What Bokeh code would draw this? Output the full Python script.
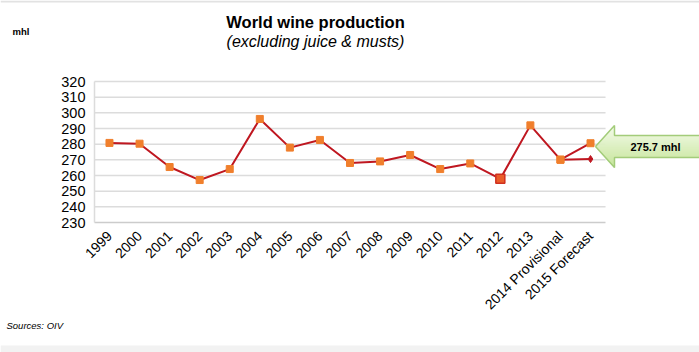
from bokeh.plotting import figure
from bokeh.models import Range1d, FactorRange, FixedTicker, Label, BoxAnnotation
from bokeh.embed import file_html
from bokeh.resources import INLINE
import math

years = ["1999", "2000", "2001", "2002", "2003", "2004", "2005", "2006", "2007",
         "2008", "2009", "2010", "2011", "2012", "2013", "2014 Provisional", "2015 Forecast"]
production = [280.8, 280.3, 265.4, 257.1, 264.1, 296.1, 277.8, 282.7, 268.0,
              269.0, 273.1, 264.1, 267.7, 257.9, 292.0, 270.1, 280.6]
low_years = ["2014 Provisional", "2015 Forecast"]
low_values = [270.1, 270.5]
highlight_year = ["2012"]
highlight_value = [257.9]
y_ticks = [230, 240, 250, 260, 270, 280, 290, 300, 310, 320]
forecast_label = "275.7 mhl"

W, H = 699, 352
T_PX, B_PX = 81, 222          # pixel rows of 320 and 230
Y0, Y1 = 230, 320
K = (Y1 - Y0) / (B_PX - T_PX)
YR0 = Y0 - (H - B_PX) * K
YR1 = Y1 + T_PX * K
PAD = 3.125                   # factor units of empty space on each side of the categories
N = len(years)
XR0, XR1 = -PAD, N + PAD

def dx(px):
    return XR0 + px / W * (XR1 - XR0)

def dy(py):
    return YR1 - py * K

p = figure(width=W, height=H,
           x_range=FactorRange(*years, range_padding=PAD, range_padding_units="absolute"),
           y_range=Range1d(YR0, YR1), output_backend="svg", toolbar_location=None,
           min_border=0)
p.outline_line_color = None
p.background_fill_color = "white"
p.border_fill_color = "white"
p.xgrid.grid_line_color = None
p.ygrid.grid_line_color = None

FONT = "Liberation Sans"

# page edges
p.add_layout(BoxAnnotation(top=dy(0), bottom=dy(2), fill_color="#e2e2e2",
                           fill_alpha=1, line_color=None, level="underlay"))
p.add_layout(BoxAnnotation(top=dy(345), bottom=dy(H + 2), fill_color="#f2f2f2",
                           fill_alpha=1, line_color=None, level="underlay"))

# horizontal grid lines across the category span only
grid_vals = y_ticks[1:]
p.segment(x0=[0] * len(grid_vals), x1=[N] * len(grid_vals), y0=grid_vals, y1=grid_vals,
          line_color="#dcdcdc", line_width=1.5)

p.yaxis.fixed_location = 0
p.yaxis.bounds = (Y0, Y1)
p.yaxis.ticker = FixedTicker(ticks=y_ticks)
p.yaxis.major_label_text_font = FONT
p.yaxis.major_label_text_font_size = "14.5px"
p.yaxis.major_label_text_color = "black"
p.yaxis.major_tick_line_color = None
p.yaxis.minor_tick_line_color = None
p.yaxis.axis_line_color = "#dcdcdc"
p.yaxis.axis_line_width = 1.5
p.yaxis.major_label_standoff = 3

p.xaxis.fixed_location = Y0
p.xaxis.bounds = (0, N)
p.xaxis.major_label_orientation = math.pi / 4
p.xaxis.major_label_text_font = FONT
p.xaxis.major_label_text_font_size = "14px"
p.xaxis.major_label_text_color = "black"
p.xaxis.major_tick_line_color = None
p.xaxis.axis_line_color = "#cccccc"
p.xaxis.axis_line_width = 1.5
p.xaxis.major_label_standoff = 5

RED = "#bf1720"
ORANGE = "#f07f2c"

p.line(years, production, line_color=RED, line_width=2)
p.line(low_years, low_values, line_color=RED, line_width=2)
p.scatter(years, production, marker="square", size=7, fill_color=ORANGE,
          line_color=ORANGE)
p.scatter(highlight_year, highlight_value, marker="square", size=9,
          fill_color="#ea5d2a", line_color="#d0301f", line_width=1.5)
p.scatter(low_years[1:], low_values[1:], marker="diamond", size=7,
          fill_color=RED, line_color=RED)
p.scatter(low_years[:1], low_values[:1], marker="square", size=7,
          fill_color=ORANGE, line_color=ORANGE)

# arrow callout (decoration), drawn as thin horizontal strips for a gradient
TIP_X, TIP_Y = 595, 146
HEAD_X, HEAD_T, HEAD_B = 614, 125, 167
BODY_T, BODY_B, END_X = 135, 157, 710

def left_x(py):
    return TIP_X + (HEAD_X - TIP_X) * abs(py - TIP_Y) / (TIP_Y - HEAD_T)

def right_x(py):
    return END_X if BODY_T <= py <= BODY_B else HEAD_X

def mix(c1, c2, t):
    a = [int(c1[i:i + 2], 16) for i in (1, 3, 5)]
    b = [int(c2[i:i + 2], 16) for i in (1, 3, 5)]
    return "#%02x%02x%02x" % tuple(round(a[i] + (b[i] - a[i]) * t) for i in range(3))

breaks = sorted(set([HEAD_T, BODY_T, TIP_Y, BODY_B, HEAD_B] +
                    [v for v in range(HEAD_T, HEAD_B + 1)]))
sx, sy, sc = [], [], []
for ya, yb in zip(breaks[:-1], breaks[1:]):
    ym = (ya + yb) / 2
    rx = right_x(ym)
    xs = [left_x(ya), rx, rx, left_x(yb)]
    ys = [ya, ya, yb, yb]
    sx.append([dx(v) for v in xs])
    sy.append([dy(v) for v in ys])
    sc.append(mix("#f4fbe9", "#c2e394", (ym - HEAD_T) / (HEAD_B - HEAD_T)))
p.patches(sx, sy, fill_color=sc, line_color=sc, line_width=0.5)
outline_px = [(TIP_X, TIP_Y), (HEAD_X, HEAD_T), (HEAD_X, BODY_T), (END_X, BODY_T),
              (END_X, BODY_B), (HEAD_X, BODY_B), (HEAD_X, HEAD_B), (TIP_X, TIP_Y)]
p.line([dx(a) for a, b in outline_px], [dy(b) for a, b in outline_px],
       line_color="#a3cc7a", line_width=1.5)
p.add_layout(Label(x=dx(655), y=dy(146), text=forecast_label, text_font=FONT,
                   text_font_size="11px", text_font_style="bold",
                   text_align="center", text_baseline="middle", text_color="black"))

# titles and notes
p.add_layout(Label(x=dx(315), y=dy(21), text="World wine production",
                   text_font=FONT, text_font_size="16.5px", text_font_style="bold",
                   text_align="center", text_baseline="middle", text_color="black"))
p.add_layout(Label(x=dx(315), y=dy(41), text="(excluding juice & musts)",
                   text_font=FONT, text_font_size="16px", text_font_style="italic",
                   text_align="center", text_baseline="middle", text_color="black"))
p.add_layout(Label(x=dx(12), y=dy(31), text="mhl", text_font=FONT,
                   text_font_size="9.5px", text_font_style="bold",
                   text_align="left", text_baseline="middle", text_color="black"))
p.add_layout(Label(x=dx(6), y=dy(325), text="Sources: OIV", text_font=FONT,
                   text_font_size="9.5px", text_font_style="italic",
                   text_align="left", text_baseline="middle", text_color="black"))

open("out.html", "w").write(file_html(p, INLINE))
